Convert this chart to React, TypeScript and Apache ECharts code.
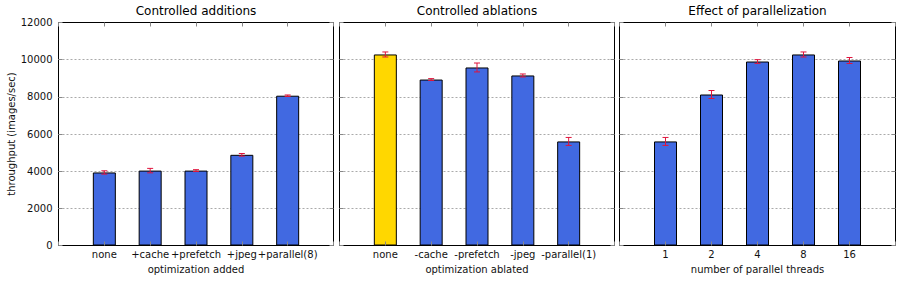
import React, { useEffect, useRef } from "react";
import * as echarts from "echarts";

const titles = ["Controlled additions", "Controlled ablations", "Effect of parallelization"];
const xNames = ["optimization added", "optimization ablated", "number of parallel threads"];
const yName = "throughput (images/sec)";

const additionsCats = ["none", "+cache", "+prefetch", "+jpeg", "+parallel(8)"];
const additionsVals = [3930, 4030, 4030, 4880, 8060];
const additionsErr = [90, 120, 50, 70, 40];

const ablationsCats = ["none", "-cache", "-prefetch", "-jpeg", "-parallel(1)"];
const ablationsVals = [10280, 8930, 9580, 9150, 5600];
const ablationsErr = [135, 50, 240, 80, 215];

const threadsCats = ["1", "2", "4", "8", "16"];
const threadsVals = [5600, 8125, 9900, 10280, 9955];
const threadsErr = [215, 215, 100, 135, 160];

const yTicks = { min: 0, max: 12000, interval: 2000 };

const panels = [
  { cats: additionsCats, vals: additionsVals, err: additionsErr, highlight: -1 },
  { cats: ablationsCats, vals: ablationsVals, err: ablationsErr, highlight: 0 },
  { cats: threadsCats, vals: threadsVals, err: threadsErr, highlight: -1 },
];

const FONT = "DejaVu Sans";
const FS = 10;
const grids = [
  { left: 58.5, width: 275 },
  { left: 339.5, width: 275 },
  { left: 619.5, width: 276 },
];
const TOP = 22.5;
const HEIGHT = 223;

export default function App() {
  const ref = useRef<HTMLDivElement>(null);
  useEffect(() => {
    if (!ref.current) return;
    const chart = echarts.init(ref.current, undefined, { renderer: "svg" });
    const tickStyle = { show: true, inside: true, length: 4, lineStyle: { color: "#888", width: 1 } };
    const noLine = { show: false, onZero: false };
    const xAxis: any[] = [];
    const yAxis: any[] = [];
    const series: any[] = [];
    panels.forEach((p, i) => {
      xAxis.push({
        type: "value",
        gridIndex: i,
        min: -1,
        max: 5,
        interval: 1,
        position: "bottom",
        z: 5,
        axisLine: noLine,
        axisTick: tickStyle,
        splitLine: { show: false },
        axisLabel: {
          margin: 4,
          fontFamily: FONT,
          fontSize: FS,
          color: "#111",
          formatter: (v: number) => (p.cats[v] !== undefined ? p.cats[v] : ""),
        },
        name: xNames[i],
        nameLocation: "middle",
        nameGap: 18,
        nameTextStyle: { fontFamily: FONT, fontSize: FS, color: "#111" },
      });
      xAxis.push({
        type: "value",
        gridIndex: i,
        min: -1,
        max: 5,
        interval: 1,
        position: "top",
        z: 5,
        axisLine: noLine,
        axisTick: tickStyle,
        splitLine: { show: false },
        axisLabel: { show: false },
      });
      // main y axis: labels + grid lines (below bars)
      yAxis.push({
        type: "value",
        gridIndex: i,
        ...yTicks,
        position: "left",
        z: 0,
        axisLine: noLine,
        axisTick: { show: false },
        splitLine: {
          show: true,
          showMinLine: false,
          showMaxLine: false,
          lineStyle: { color: "#aaaaaa", type: [2, 2], width: 1 },
        },
        axisLabel: {
          show: i === 0,
          margin: 6,
          fontFamily: FONT,
          fontSize: FS,
          color: "#111",
          formatter: (v: number) => String(v),
        },
        name: i === 0 ? yName : "",
        nameLocation: "middle",
        nameGap: 42,
        nameTextStyle: { fontFamily: FONT, fontSize: FS, color: "#111" },
      });
      // tick-only axes on both sides (above bars)
      ["left", "right"].forEach((pos) => {
        yAxis.push({
          type: "value",
          gridIndex: i,
          ...yTicks,
          position: pos,
          z: 5,
          axisLine: noLine,
          axisTick: tickStyle,
          splitLine: { show: false },
          axisLabel: { show: false },
        });
      });
      series.push({
        type: "bar",
        xAxisIndex: i * 2,
        yAxisIndex: i * 3,
        barWidth: 23,
        z: 2,
        data: p.vals.map((v, k) => ({
          value: [k, v],
          itemStyle: {
            color: k === p.highlight ? "#FFD700" : "#4169E1",
            borderColor: "#000",
            borderWidth: 1,
          },
        })),
      });
      series.push({
        type: "custom",
        xAxisIndex: i * 2,
        yAxisIndex: i * 3,
        z: 4,
        data: p.vals.map((v, k) => [k, v, p.err[k]]),
        encode: { x: 0, y: 1 },
        renderItem: (params: any, api: any) => {
          const x = api.value(0);
          const y = api.value(1);
          const e = api.value(2);
          const top = api.coord([x, y + e]);
          const bot = api.coord([x, y - e]);
          const hw = 3;
          const style = { stroke: "#E0143C", lineWidth: 1 };
          return {
            type: "group",
            children: [
              { type: "line", shape: { x1: top[0], y1: top[1], x2: bot[0], y2: bot[1] }, style },
              { type: "line", shape: { x1: top[0] - hw, y1: top[1], x2: top[0] + hw, y2: top[1] }, style },
              { type: "line", shape: { x1: bot[0] - hw, y1: bot[1], x2: bot[0] + hw, y2: bot[1] }, style },
            ],
          };
        },
      });
    });
    chart.setOption({
      animation: false,
      backgroundColor: "#fff",
      title: titles.map((t, i) => ({
        text: t,
        left: grids[i].left + grids[i].width / 2,
        top: 5,
        padding: 0,
        textAlign: "center",
        textStyle: { fontFamily: FONT, fontSize: 12, fontWeight: "normal", color: "#000" },
      })),
      grid: grids.map((g) => ({
        left: g.left,
        width: g.width,
        top: TOP,
        height: HEIGHT,
        show: true,
        borderColor: "#000",
        borderWidth: 1,
        backgroundColor: "transparent",
        containLabel: false,
      })),
      xAxis,
      yAxis,
      series,
    });
    return () => chart.dispose();
  }, []);
  return (
    <div
      ref={ref}
      style={{ position: "fixed", left: 0, top: 0, width: 901, height: 281 }}
    />
  );
}
